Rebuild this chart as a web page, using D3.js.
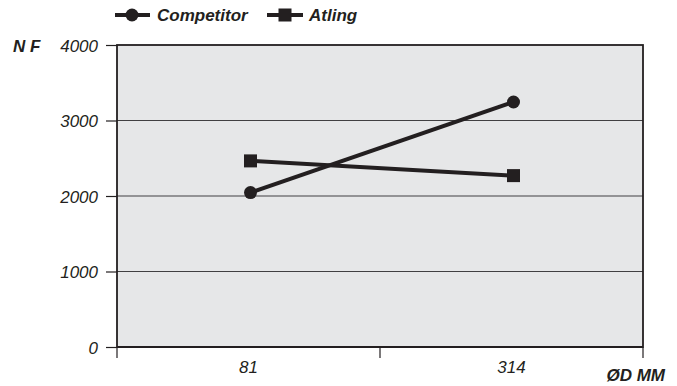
<!DOCTYPE html>
<html>
<head>
<meta charset="utf-8">
<script src="https://cdn.jsdelivr.net/npm/d3@7"></script>
<style>
  body { margin: 0; background: #fff; }
  svg text { font-family: "Liberation Sans", Arial, sans-serif; font-style: italic; fill: #231f20; }
</style>
</head>
<body>
<div id="chart"></div>
<script>
// values
const categories = ["81", "314"];
const competitor = [2045, 3245];
const atling = [2465, 2270];
const yTicks = [0, 1000, 2000, 3000, 4000];

const width = 677, height = 386;
const svg = d3.select("#chart").append("svg").attr("width", width).attr("height", height);

const plotLeft = 117, plotRight = 643, plotTop = 45, plotBottom = 347;
const ink = "#231f20";
const fontSize = 17;

const x = d3.scaleBand().domain(categories).range([plotLeft, plotRight]);
const y = d3.scaleLinear().domain([0, 4000]).range([plotBottom, plotTop]);

// plot background
svg.append("rect").attr("x", plotLeft).attr("y", plotTop)
  .attr("width", plotRight - plotLeft).attr("height", plotBottom - plotTop)
  .attr("fill", "#e6e7e8");

// grid lines
svg.append("g").selectAll("line").data(yTicks.filter(d => d > 0 && d < 4000)).join("line")
  .attr("x1", plotLeft).attr("x2", plotRight)
  .attr("y1", d => y(d)).attr("y2", d => y(d))
  .attr("stroke", "#414042").attr("stroke-width", 1.2);

// frame
svg.append("rect").attr("x", plotLeft).attr("y", plotTop)
  .attr("width", plotRight - plotLeft).attr("height", plotBottom - plotTop)
  .attr("fill", "none").attr("stroke", ink).attr("stroke-width", 1.8);

// y axis
const yAxis = d3.axisLeft(y).tickValues(yTicks).tickSize(11).tickPadding(8).tickFormat(d3.format("d"));
const yg = svg.append("g").attr("transform", `translate(${plotLeft},0)`).call(yAxis);
yg.select(".domain").remove();
yg.selectAll("line").attr("stroke", ink).attr("stroke-width", 1.2);
yg.selectAll("text").attr("font-size", fontSize).attr("font-family", null).attr("fill", ink).attr("dy", "0.38em");

// x axis: ticks at band boundaries, labels at band centres
const xg = svg.append("g").attr("transform", `translate(0,${plotBottom})`);
const bounds = [plotLeft, x(categories[1]), plotRight];
xg.selectAll("line").data(bounds).join("line")
  .attr("x1", d => d).attr("x2", d => d).attr("y1", 0).attr("y2", 11)
  .attr("stroke", ink).attr("stroke-width", 1.2);
xg.append("line").attr("x1", plotLeft).attr("x2", plotRight).attr("y1", 0).attr("y2", 0)
  .attr("stroke", ink).attr("stroke-width", 2);
xg.selectAll("text").data(categories).join("text")
  .attr("x", d => x(d) + x.bandwidth() / 2).attr("y", 26)
  .attr("text-anchor", "middle").attr("font-size", fontSize).text(d => d);

// axis titles
svg.append("text").attr("x", 13).attr("y", 52).attr("font-size", fontSize).attr("font-weight", "bold").text("N F");
svg.append("text").attr("x", 665).attr("y", 381).attr("text-anchor", "end")
  .attr("font-size", fontSize).attr("font-weight", "bold").text("ØD MM");

// series
const cx = d => x(d) + x.bandwidth() / 2 + 2;
const line = d3.line().x(d => cx(d.c)).y(d => y(d.v));

const compData = categories.map((c, i) => ({ c: c, v: competitor[i] }));
const atlData = categories.map((c, i) => ({ c: c, v: atling[i] }));

svg.append("path").datum(atlData).attr("d", line)
  .attr("fill", "none").attr("stroke", ink).attr("stroke-width", 4);
svg.append("g").selectAll("rect").data(atlData).join("rect")
  .attr("x", d => cx(d.c) - 6.5).attr("y", d => y(d.v) - 6.5)
  .attr("width", 13).attr("height", 13).attr("fill", ink);

svg.append("path").datum(compData).attr("d", line)
  .attr("fill", "none").attr("stroke", ink).attr("stroke-width", 4);
svg.append("g").selectAll("circle").data(compData).join("circle")
  .attr("cx", d => cx(d.c)).attr("cy", d => y(d.v)).attr("r", 6.5).attr("fill", ink);

// legend
const legend = svg.append("g").attr("transform", "translate(115,15)");
legend.append("line").attr("x1", 0).attr("x2", 35).attr("stroke", ink).attr("stroke-width", 4);
legend.append("circle").attr("cx", 17).attr("r", 6.5).attr("fill", ink);
legend.append("text").attr("x", 42).attr("y", 6).attr("font-size", fontSize).attr("font-weight", "bold").text("Competitor");
legend.append("line").attr("x1", 152).attr("x2", 188).attr("stroke", ink).attr("stroke-width", 4);
legend.append("rect").attr("x", 163.5).attr("y", -6.5).attr("width", 13).attr("height", 13).attr("fill", ink);
legend.append("text").attr("x", 194).attr("y", 6).attr("font-size", fontSize).attr("font-weight", "bold").text("Atling");
</script>
</body>
</html>
